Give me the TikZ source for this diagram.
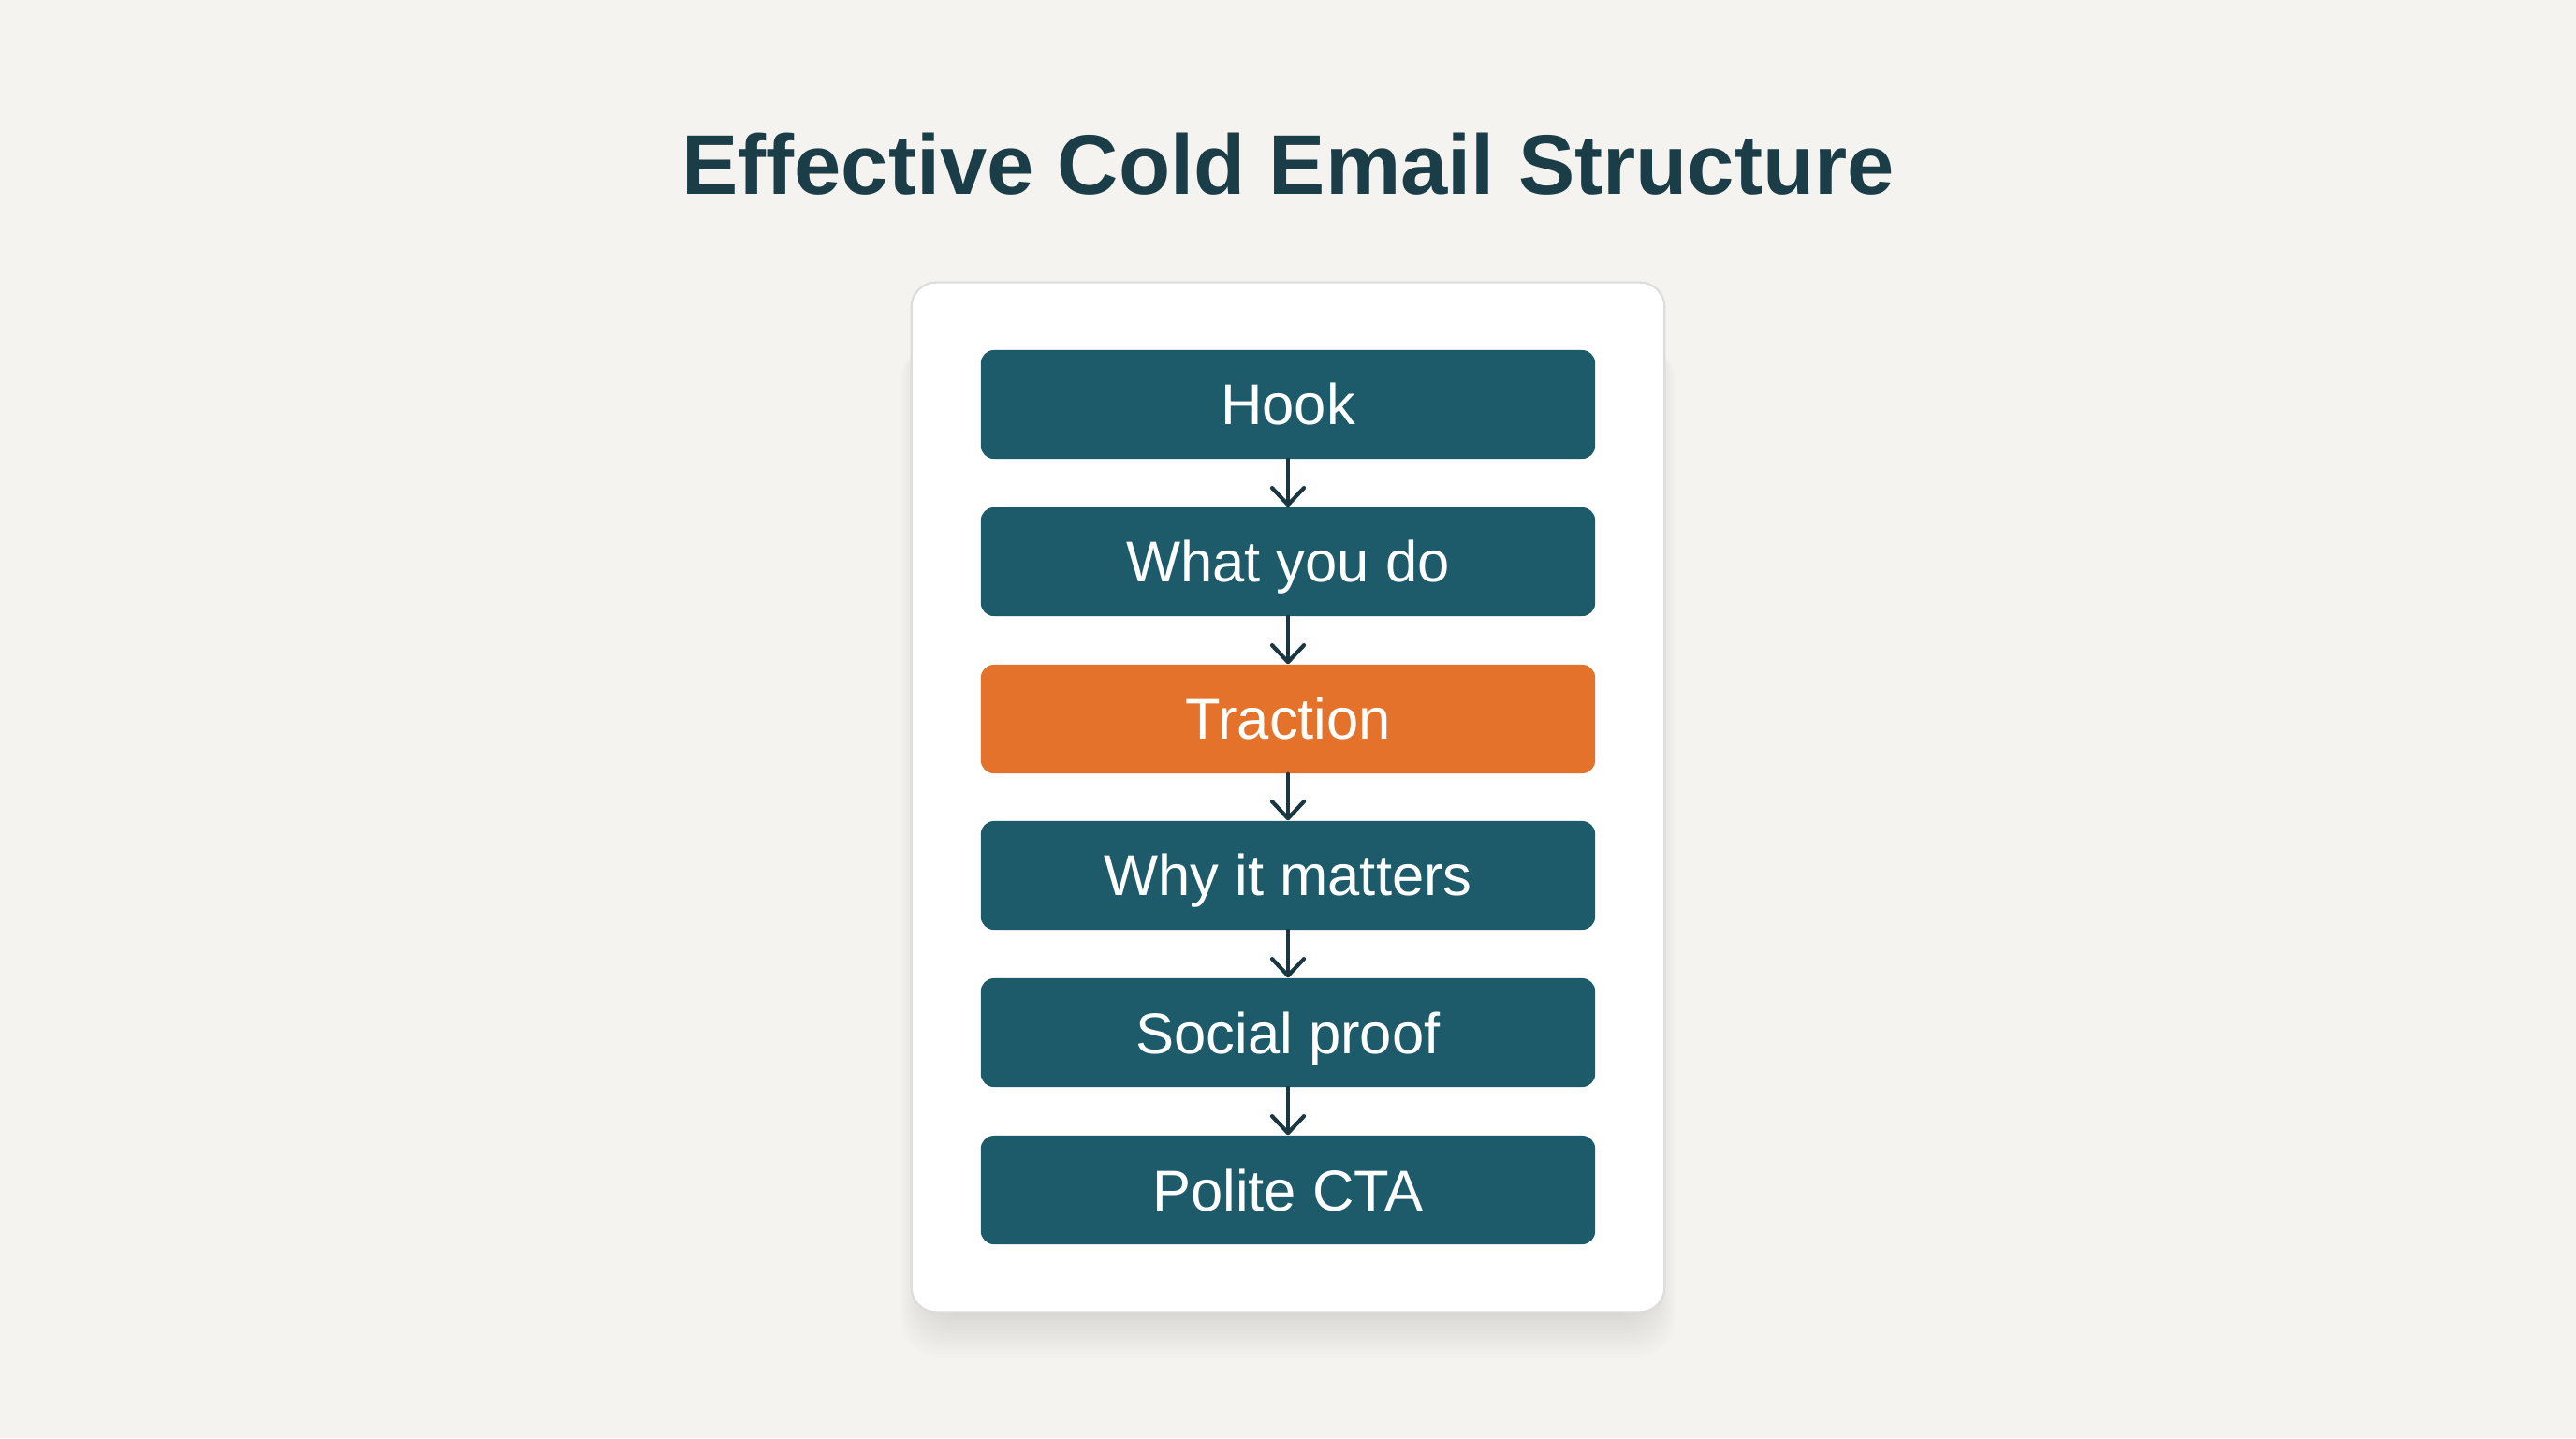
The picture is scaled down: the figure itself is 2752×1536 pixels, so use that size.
\documentclass[tikz,border=0pt]{standalone}
\usepackage{fontspec}
\setmainfont{Liberation Sans}
\usetikzlibrary{arrows.meta}
\definecolor{bgcol}{HTML}{F4F3EF}
\definecolor{tealbox}{HTML}{1D5A6A}
\definecolor{orangebox}{HTML}{E4722A}
\definecolor{titlecol}{HTML}{1B3D48}
\definecolor{arrowcol}{HTML}{1A3640}
\definecolor{cardline}{HTML}{DCDCDA}
\tikzset{
  stepbox/.style={rectangle, rounded corners=0.14cm, fill=tealbox, text=white,
    minimum width=6.56cm, minimum height=1.16cm, inner sep=0pt,
    text height=12.5pt, text depth=0pt, font=\fontsize{17.5}{20}\selectfont},
  hilite/.style={stepbox, fill=orangebox},
  card/.style={rectangle, rounded corners=0.26cm, fill=white, draw=cardline,
    line width=0.6pt, minimum width=8.04cm, minimum height=10.99cm},
  flow/.style={draw=arrowcol, line width=1.2pt, line cap=round,
    -{Straight Barb[length=1.8mm, width=3.4mm, round]}}
}
\begin{document}
\begin{tikzpicture}[x=0.01cm, y=-0.01cm]
    \fill[bgcol] (0,0) rectangle (2752,1536);
    \useasboundingbox (0,0) rectangle (2752,1536);
    \node[font=\fontsize{25.7}{30}\selectfont\bfseries, text=titlecol, anchor=base] (title) at (1376,207) {Effective Cold Email Structure};
    % soft shadow under the card
    \foreach \i in {1,...,14}
      \fill[black, opacity=0.009, rounded corners=0.4cm] (990-\i*2, 340+\i*2) rectangle (1762+\i*2, 1400+\i*3.5);
    \node[card] (card) at (1376,851.5) {};
    \node[stepbox] (hook) at (1376,432) {Hook};
    \node[stepbox] (what) at (1376,600) {What you do};
    \node[hilite] (traction) at (1376,768) {Traction};
    \node[stepbox] (why) at (1376,935) {Why it matters};
    \node[stepbox] (proof) at (1376,1103) {Social proof};
    \node[stepbox] (cta) at (1376,1271) {Polite CTA};
    \draw[flow] (hook) -- (what);
    \draw[flow] (what) -- (traction);
    \draw[flow] (traction) -- (why);
    \draw[flow] (why) -- (proof);
    \draw[flow] (proof) -- (cta);
\end{tikzpicture}
\end{document}
